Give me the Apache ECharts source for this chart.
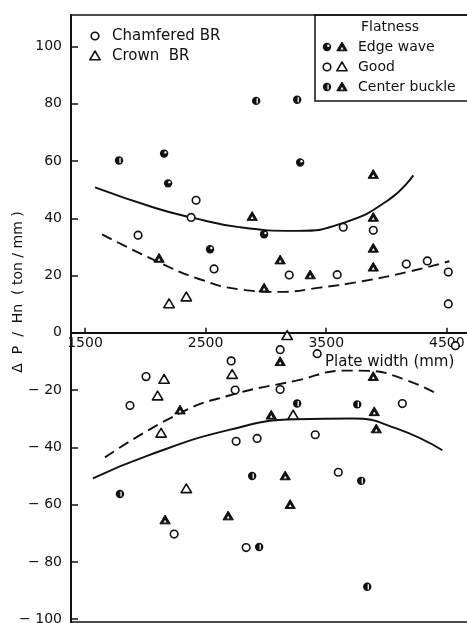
<!DOCTYPE html>
<html>
<head>
<meta charset="utf-8">
<script src="https://cdn.jsdelivr.net/npm/echarts@6/dist/echarts.min.js"></script>
<style>
html,body{margin:0;padding:0;background:#fff;}
#chart{width:467px;height:623px;}
</style>
</head>
<body>
<div id="chart"></div>
<script>
// ---- data (plate width mm, ΔP/Hn ton/mm) ----
var chamferedGood = [[2421,46.3],[2380,40.3],[1940,34.1],[2570,22.3],[3641,36.9],[3890,35.8],[3193,20.2],[3591,20.3],[4164,24.0],[4338,25.1],[4512,21.2],[4512,10.1],
  [4571,-4.5],[3118,-5.9],[3425,-7.3],[2712,-9.8],[2745,-20.0],[3118,-19.8],[2006,-15.3],[1873,-25.4],[2753,-37.9],[2927,-36.9],[3409,-35.6],[4131,-24.7],[3600,-48.7],[2239,-70.3],[2836,-75.0]];
var chamferedEdge = [[2156,62.6],[2189,52.2],[3284,59.5],[2537,29.2],[2985,34.4]];
var chamferedCenter = [[1782,60.2],[2919,81.0],[3259,81.4],[3259,-24.7],[3757,-25.0],[1790,-56.3],[2886,-50.0],[3790,-51.7],[2944,-74.8],[3840,-88.7]];
var crownGood = [[2197,10.1],[2340,12.5],[3176,-1.0],[2720,-14.6],[2156,-16.3],[2102,-22.1],[2131,-35.1],[3226,-28.8],[2340,-54.5]];
var crownEdge = [[2114,26.0],[2886,40.6],[3890,55.3],[3890,40.3],[3890,29.5],[3890,22.9],[3118,25.4],[3367,20.2],[2985,15.6]];
var crownCenter = [[3118,-10.1],[3890,-15.3],[2288,-27.0],[3044,-28.8],[3898,-27.6],[3915,-33.6],[3160,-50.0],[3201,-60.0],[2164,-65.4],[2687,-64.0]];
var upperSolid = [[1583,50.8],[2089,43.5],[2380,40.3],[2778,36.9],[3251,35.6],[3650,38.5],[4023,46.6],[4222,55.0]];
var upperDashed = [[1641,34.4],[2114,24.6],[2446,18.8],[2778,15.2],[3110,14.3],[3450,15.8],[3799,18.0],[4200,21.5],[4521,25.0]];
var lowerSolid = [[1566,-50.8],[2031,-42.7],[2695,-33.9],[3251,-30.2],[3716,-29.9],[4081,-33.4],[4463,-41.0]];
var lowerDashed = [[1666,-43.5],[2280,-28.2],[2695,-21.9],[3251,-16.7],[3666,-13.2],[3850,-13.3],[4131,-16.0],[4413,-21.2]];
var xTicks = [1500,2500,3500,4500];
var yTicks = [-100,-80,-60,-40,-20,0,20,40,60,80,100];

var INK = '#111';
var FONT = 'DejaVu Sans';
var Y_MIN = -101, Y_MAX = 111, GRID_TOP = 15, GRID_BOTTOM = 1, H = 623;
var X_MIN = 1384, X_MAX = 4750;

function markerShape(shape, fill, cx, cy, z) {
  var ch = [];
  z = z || 0;
  if (shape === 'circle') {
    if (fill === 'good') {
      ch.push({type:'circle', z:z, shape:{cx:cx, cy:cy, r:3.8}, style:{fill:'#fff', stroke:INK, lineWidth:1.6}});
    } else if (fill === 'edge') {
      ch.push({type:'circle', z:z, shape:{cx:cx, cy:cy, r:4.2}, style:{fill:INK}});
      ch.push({type:'circle', z:z, shape:{cx:cx+1.3, cy:cy-1.2, r:1.2}, style:{fill:'#fff'}});
    } else {
      ch.push({type:'circle', z:z, shape:{cx:cx, cy:cy, r:4.2}, style:{fill:INK}});
      ch.push({type:'rect', z:z, shape:{x:cx+0.4, y:cy-2.6, width:1.3, height:5.2}, style:{fill:'#fff'}});
    }
  } else {
    var pts = [[cx, cy-5], [cx-5.2, cy+3.8], [cx+5.2, cy+3.8]];
    if (fill === 'good') {
      ch.push({type:'polygon', z:z, shape:{points:pts}, style:{fill:'#fff', stroke:INK, lineWidth:1.6, lineJoin:'round'}});
    } else {
      ch.push({type:'polygon', z:z, shape:{points:pts}, style:{fill:INK, stroke:INK, lineWidth:1, lineJoin:'round'}});
      ch.push({type:'polygon', z:z, shape:{points:[[cx, cy-0.3],[cx-1.5, cy+2.4],[cx+1.5, cy+2.4]]}, style:{fill:'#fff'}});
    }
  }
  return ch;
}

function markerSeries(data, shape, fill) {
  return {
    type:'custom', data:data, z:5, clip:false,
    encode:{x:0, y:1},
    renderItem:function(params, api){
      var p = api.coord([api.value(0), api.value(1)]);
      return {type:'group', children: markerShape(shape, fill, p[0], p[1])};
    }
  };
}

function curveSeries(data, dashed) {
  return {
    type:'line', data:data, smooth:0.5, showSymbol:false, symbol:'none', z:2,
    lineStyle:{color:INK, width:1.9, type: dashed ? [11,6] : 'solid'},
    silent:true
  };
}

function frameAxis(position) {
  return {
    type:'value', min:X_MIN, max:X_MAX, position:position, offset:0,
    axisLine:{show:true, onZero:false, lineStyle:{color:INK, width:1.6}},
    axisTick:{show:false}, axisLabel:{show:false}, splitLine:{show:false}
  };
}

var chart = echarts.init(document.getElementById('chart'), null, {renderer:'canvas'});

var g = [];
// top-left legend
g = g.concat(markerShape('circle','good',95,36,10));
g = g.concat(markerShape('triangle','good',95,56,10));
g.push({type:'text', x:112, y:36, style:{text:'Chamfered BR', font:'15px '+FONT, fill:INK, align:'left', verticalAlign:'middle'}});
g.push({type:'text', x:112, y:56, style:{text:'Crown  BR', font:'15px '+FONT, fill:INK, align:'left', verticalAlign:'middle'}});
// top-right legend box
g.push({type:'rect', shape:{x:315, y:15, width:170, height:86}, style:{fill:null, stroke:INK, lineWidth:1.5}, z:10});
g.push({type:'text', x:390, y:27, style:{text:'Flatness', font:'14px '+FONT, fill:INK, align:'center', verticalAlign:'middle'}, z:11});
var rows = [['edge','Edge wave',47],['good','Good',67],['center','Center buckle',87]];
rows.forEach(function(r){
  g = g.concat(markerShape('circle', r[0], 327, r[2], 11));
  g = g.concat(markerShape('triangle', r[0], 342, r[2], 11));
  g.push({type:'text', x:358, y:r[2], z:11, style:{text:r[1], font:'14px '+FONT, fill:INK, align:'left', verticalAlign:'middle'}});
});
// axis titles
g.push({type:'text', x:325, y:362, style:{text:'Plate width (mm)', font:'15px '+FONT, fill:INK, align:'left', verticalAlign:'middle'}});
g.push({type:'text', x:18, y:292, rotation:Math.PI/2, style:{text:'\u0394  P  /  Hn  ( ton / mm )', font:'14px '+FONT, fill:INK, align:'center', verticalAlign:'middle'}});

// offset that moves the label-only x axis from the bottom edge up to y = 0
var plotH = H - GRID_TOP - GRID_BOTTOM;
var zeroFromBottom = plotH * (0 - Y_MIN) / (Y_MAX - Y_MIN);

chart.setOption({
  animation:false,
  backgroundColor:'#fff',
  grid:{left:71, top:GRID_TOP, right:-10, bottom:GRID_BOTTOM, containLabel:false, outerBoundsMode:'none', show:false},
  xAxis:[{
    type:'value', min:X_MIN, max:X_MAX,
    axisLine:{onZero:true, lineStyle:{color:INK, width:1.8}},
    axisTick:{show:true, inside:true, length:5, customValues:xTicks, lineStyle:{color:INK, width:1.5}},
    axisLabel:{show:false},
    splitLine:{show:false}
  },{
    type:'value', min:X_MIN, max:X_MAX, position:'bottom', offset:-zeroFromBottom,
    axisLine:{show:false, onZero:false},
    axisTick:{show:false},
    axisLabel:{show:true, customValues:xTicks, margin:4, color:INK, fontSize:14, fontFamily:FONT,
      formatter:function(v){ return String(v); }},
    splitLine:{show:false}
  },
    frameAxis('bottom'),
    frameAxis('top')
  ],
  yAxis:{
    type:'value', min:Y_MIN, max:Y_MAX,
    axisLine:{show:true, onZero:false, lineStyle:{color:INK, width:2}},
    axisTick:{show:true, inside:true, length:7, customValues:yTicks, lineStyle:{color:INK, width:1.5}},
    axisLabel:{show:true, customValues:yTicks, margin:9, color:INK, fontSize:14, fontFamily:FONT,
      formatter:function(v){ return v < 0 ? '\u2212 ' + Math.abs(v) : String(v); }},
    splitLine:{show:false}
  },
  graphic: g,
  series:[
    curveSeries(upperSolid,false),
    curveSeries(upperDashed,true),
    curveSeries(lowerSolid,false),
    curveSeries(lowerDashed,true),
    markerSeries(chamferedGood,'circle','good'),
    markerSeries(chamferedEdge,'circle','edge'),
    markerSeries(chamferedCenter,'circle','center'),
    markerSeries(crownGood,'triangle','good'),
    markerSeries(crownEdge,'triangle','edge'),
    markerSeries(crownCenter,'triangle','center')
  ]
});
</script>
</body>
</html>
